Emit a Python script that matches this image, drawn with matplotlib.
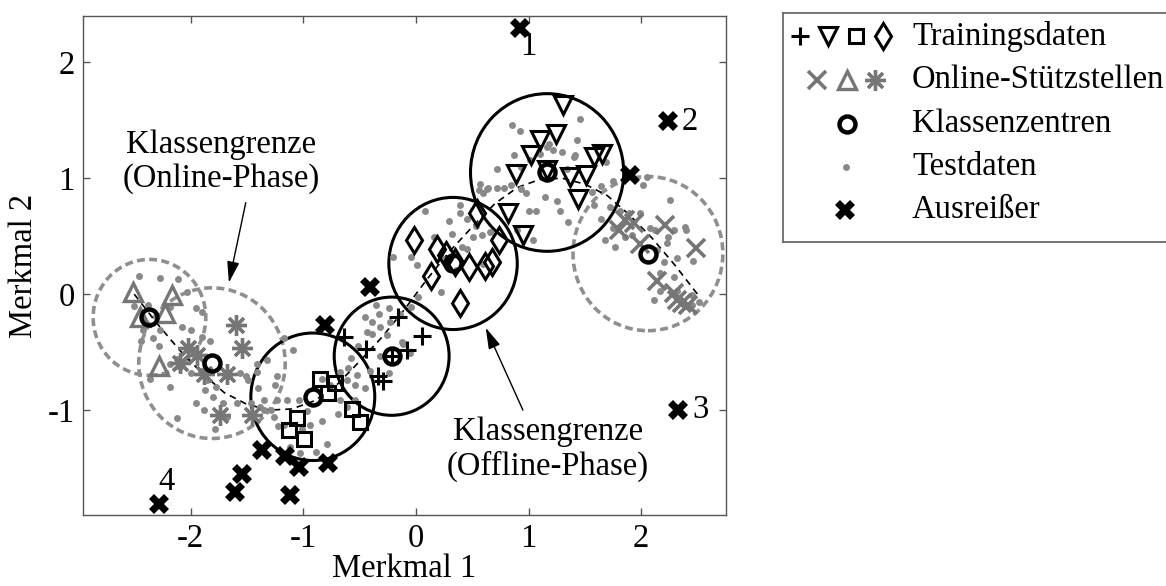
import matplotlib.pyplot as plt
from matplotlib.patches import Circle

plt.rcParams['font.family'] = ['Liberation Serif', 'DejaVu Serif']
plt.rcParams['font.size'] = 23.5
plt.rcParams['axes.unicode_minus'] = False

# Trainingsdaten (offline classes)
plus_x = [-0.64, -0.44, -0.16, 0.05, -0.08, -0.34, -0.29, -0.21]
plus_y = [-0.37, -0.47, -0.20, -0.36, -0.48, -0.71, -0.75, -0.53]
tri_x = [1.31, 1.24, 1.10, 1.02, 0.89, 1.165, 1.37, 1.51, 1.58, 1.65, 1.44, 0.82, 0.955]
tri_y = [1.63, 1.385, 1.33, 1.20, 1.04, 1.07, 1.01, 1.03, 1.18, 1.21, 0.825, 0.70, 0.51]
sq_x = [-0.855, -0.716, -0.784, -0.568, -0.50, -1.056, -1.13, -0.991]
sq_y = [-0.735, -0.765, -0.851, -0.991, -1.101, -1.072, -1.172, -1.253]
dia_x = [0.54, -0.02, 0.19, 0.27, 0.35, 0.47, 0.61, 0.68, 0.74, 0.13, 0.39]
dia_y = [0.70, 0.47, 0.39, 0.34, 0.28, 0.235, 0.24, 0.28, 0.47, 0.16, -0.08]

# Online-Stuetzstellen
ocross_x = [1.86, 1.94, 1.80, 2.21, 1.99, 2.49, 2.14, 2.29, 2.36, 2.42, 2.32]
ocross_y = [0.64, 0.61, 0.55, 0.595, 0.43, 0.40, 0.11, 0.01, -0.08, -0.095, -0.05]
otri_x = [-2.51, -2.165, -2.45, -2.225, -2.28]
otri_y = [0.02, -0.01, -0.20, -0.165, -0.62]
oast_x = [-1.60, -1.54, -2.02, -1.945, -2.09, -1.885, -1.68, -1.74, -1.455]
oast_y = [-0.27, -0.46, -0.46, -0.525, -0.59, -0.69, -0.685, -1.04, -1.04]

# Klassenzentren and class radii
off_cx = [-0.915, -0.215, 0.33, 1.165]
off_cy = [-0.885, -0.535, 0.265, 1.05]
off_r = [0.55, 0.51, 0.57, 0.68]
on_cx = [-2.365, -1.81, 2.06]
on_cy = [-0.20, -0.595, 0.35]
on_r = [0.50, 0.65, 0.665]

# Ausreisser
out_x = [0.925, 2.24, 2.33, -2.28, -1.37, -1.16, -1.04, -0.78, -1.54, -1.61, -1.12, -0.81, -0.41, 1.90]
out_y = [2.30, 1.49, -1.00, -1.81, -1.34, -1.40, -1.49, -1.46, -1.55, -1.71, -1.73, -0.27, 0.06, 1.03]
out_labels = ['1', '2', '3', '4']

# Testdaten
test_x = [-2.46, -2.27, -2.11, -2.38, -2.18, -2.03, -1.95, -1.90, -2.42, -2.33, -2.28, -2.08, -2.12, -2.36,
          -2.00, -1.90, -1.83, -2.18, -2.09, -2.00, -1.91, -1.85, -1.77, -1.66, -1.56, -1.49, -1.41, -1.32,
          -1.23, -1.87, -1.95, -1.80, -1.71, -1.59, -1.46, -1.35, -1.68, -1.78, -1.88, -2.12, -2.18, -2.27,
          -2.50, -2.44,
          -1.17, -1.09, -0.83, -0.76, -0.67, -0.61, -0.54, -0.69, -0.83, -0.94, -1.01, -1.17, -1.22, -1.26,
          -1.29, -1.35, -1.38, -1.23, -1.14, -0.97, -1.04, -0.79, -0.89, -1.03, -1.12, -1.40, -1.51, -1.41,
          -1.25,
          -0.35, -0.24, -0.45, -0.39, -0.32, -0.39, -0.26, -0.12, -0.05, -0.32, -0.51, -0.58, -0.60, -0.52,
          -0.54, -0.45, -0.24, -0.41, -0.67, -0.61,
          0.08, 0.29, 0.39, 0.39, 0.45, 0.53, 0.32, 0.51, 0.59, 0.66, 0.16, 0.41, 0.45, -0.04, 0.01, 0.23,
          0.29, 0.36, 0.60, 0.22, 0.02, -0.20, -0.14, -0.04, -0.23, -0.33, -0.43, -0.11,
          0.57, 0.64, 0.72, 0.60, 0.87, 0.93, 1.01, 1.10, 1.16, 1.22, 1.30, 1.41, 0.72, 0.98, 1.15, 1.25,
          1.28, 1.00, 1.07, 1.35, 1.04, 0.90, 0.84, 0.93, 0.85, 0.92, 1.46, 1.43, 1.18, 1.40, 1.34, 1.69,
          1.75, 1.64, 1.56, 0.56, 0.63, 0.78,
          2.05, 2.02, 2.26, 1.81, 1.89, 1.99, 1.72, 1.58, 1.64, 1.75, 1.68, 1.77, 1.86, 1.92, 2.08, 2.12,
          2.29, 2.39, 2.40, 2.24, 2.23, 2.14, 2.20, 2.32, 2.46, 2.17, 2.29, 2.32, 2.45, 2.51, 2.17, 2.11,
          2.45]
test_y = [0.16, 0.14, 0.13, -0.09, -0.11, 0.02, -0.12, -0.15, -0.31, -0.38, -0.45, -0.28, -0.56, -0.73,
          -0.31, -0.37, -0.40, -0.60, -0.63, -0.68, -0.66, -0.74, -0.80, -0.71, -0.68, -0.74, -0.60, -0.57,
          -0.71, -0.83, -0.94, -0.89, -0.94, -0.94, -0.94, -1.00, -1.06, -1.16, -1.00, -1.07, -0.80, -0.31,
          -0.10, -0.40,
          -0.38, -0.48, -0.73, -0.78, -0.91, -0.97, -0.91, -1.03, -1.09, -1.13, -1.16, -1.13, -1.14, -1.06,
          -1.00, -0.91, -0.97, -0.91, -0.91, -1.01, -0.91, -1.29, -1.36, -1.37, -1.32, -0.81, -0.71, -0.67,
          -0.78,
          -0.09, -0.12, -0.20, -0.24, -0.28, -0.34, -0.35, -0.41, -0.51, -0.53, -0.45, -0.55, -0.64, -0.70,
          -0.78, -0.81, -0.68, -0.66, -0.67, -0.74,
          0.72, 0.63, 0.77, 0.70, 0.65, 0.59, 0.52, 0.49, 0.51, 0.54, 0.49, 0.41, 0.39, 0.32, 0.25, 0.31,
          0.22, 0.21, 0.26, 0.02, -0.02, 0.32, -0.17, -0.11, -0.24, -0.17, -0.33, -0.43,
          0.95, 0.92, 0.92, 0.87, 1.20, 1.10, 1.16, 1.21, 1.27, 1.24, 1.23, 1.20, 1.08, 0.87, 0.84, 0.80,
          0.72, 0.72, 0.72, 0.62, 0.47, 0.55, 0.94, 0.91, 1.46, 1.41, 1.51, 1.33, 1.30, 1.18, 1.08, 1.14,
          0.98, 0.93, 0.88, 0.90, 0.91, 0.92,
          1.01, 0.94, 0.81, 0.72, 0.70, 0.70, 0.75, 0.77, 0.65, 0.57, 0.47, 0.41, 0.49, 0.51, 0.57, 0.55,
          0.55, 0.58, 0.55, 0.49, 0.44, 0.38, 0.28, 0.31, 0.29, 0.18, 0.15, 0.03, -0.01, -0.07, 0.03, -0.05,
          -0.09]

# Klassengrenze path through the class centres
curve_x = [-2.5, -2.3, -2.1, -1.9, -1.7, -1.5, -1.3, -1.1, -0.9, -0.7, -0.5, -0.3, -0.1,
           0.1, 0.3, 0.5, 0.7, 0.9, 1.1, 1.3, 1.5, 1.7, 1.9, 2.1, 2.3, 2.5]
curve_y = [0.0, -0.25, -0.48, -0.68, -0.85, -0.95, -1.0, -0.99, -0.92, -0.78, -0.58, -0.37, -0.13,
           0.13, 0.37, 0.58, 0.78, 0.92, 0.99, 1.0, 0.95, 0.85, 0.68, 0.48, 0.25, 0.0]

grey = '#767676'
dotgrey = '#898989'
W, H = 1166, 586

fig = plt.figure(figsize=(W / 100, H / 100), dpi=100)
ax = fig.add_axes([83 / W, 1 - 515 / H, (726 - 83) / W, (515 - 16) / H])

for cx, cy, r in zip(on_cx, on_cy, on_r):
    ax.add_patch(Circle((cx, cy), r, fill=False, ec='#8f8f8f', lw=2.6, ls=(0, (2.2, 1.2)), zorder=2))
for cx, cy, r in zip(off_cx, off_cy, off_r):
    ax.add_patch(Circle((cx, cy), r, fill=False, ec='black', lw=2.2, zorder=2))

ax.plot(curve_x, curve_y, color='black', lw=1.2, ls=(0, (4, 3)), zorder=3)
ax.plot(test_x, test_y, 'o', color=dotgrey, ms=5, mew=0, zorder=3)

ax.plot(plus_x, plus_y, '+', color='black', ms=13, mew=2.2, zorder=4)
ax.plot(tri_x, tri_y, 'v', mfc='none', mec='black', ms=12.5, mew=2.2, zorder=4)
ax.plot(sq_x, sq_y, 's', mfc='none', mec='black', ms=9.5, mew=2.2, zorder=4)
ax.plot(dia_x, dia_y, 'd', mfc='none', mec='black', ms=13.5, mew=2.2, zorder=4)

ax.plot(ocross_x, ocross_y, 'x', color=grey, ms=13, mew=2.6, zorder=4)
ax.plot(otri_x, otri_y, '^', mfc='none', mec=grey, ms=13, mew=2.4, zorder=4)
ax.plot(oast_x, oast_y, marker=(8, 2, 0), ls='none', color=grey, ms=15, mew=2.4, zorder=4)

ax.plot(off_cx + on_cx, off_cy + on_cy, 'o', mfc='none', mec='black', ms=11.5, mew=3.2, zorder=5)
ax.plot(out_x, out_y, 'X', color='black', ms=14.5, mew=0, zorder=5)

offsets = [(8, -19), (22, 0), (22, 0), (7, 22)]
for lab, x, y, off in zip(out_labels, out_x, out_y, offsets):
    ax.annotate(lab, (x, y), xytext=off, textcoords='offset pixels', ha='center', va='center')

arrow = dict(arrowstyle='-|>,head_length=0.55,head_width=0.16', color='black', lw=1.0,
             shrinkA=0, shrinkB=0)
ax.annotate('', xy=(-1.66, 0.10), xytext=(-1.51, 0.79), arrowprops=arrow)
ax.text(-1.73, 1.14, 'Klassengrenze\n(Online-Phase)', ha='center', va='center', linespacing=1.15)
ax.annotate('', xy=(0.62, -0.29), xytext=(0.95, -1.0), arrowprops=arrow)
ax.text(1.17, -1.34, 'Klassengrenze\n(Offline-Phase)', ha='center', va='center', linespacing=1.15)

ax.set_xlim(-2.955, 2.753)
ax.set_ylim(-1.905, 2.40)
ax.set_xticks([-2, -1, 0, 1, 2])
ax.set_yticks([-1, 0, 1, 2])
ax.tick_params(direction='in', length=5, width=1, color='#555555', top=True, right=True, pad=6)
for sp in ax.spines.values():
    sp.set_color('#555555')
    sp.set_linewidth(1.0)
ax.set_xlabel('Merkmal 1', labelpad=0)
ax.set_ylabel('Merkmal 2', labelpad=6)

# legend box, drawn by hand so it can run past the right edge
lax = fig.add_axes([783 / W, 1 - 242 / H, 420 / W, 229 / H])
lax.set_xlim(0, 420)
lax.set_ylim(229, 0)
lax.set_xticks([])
lax.set_yticks([])
for sp in lax.spines.values():
    sp.set_color('#6a6a6a')
    sp.set_linewidth(1.3)
rows = [23, 67, 111, 154, 197]
lax.plot([17], [rows[0]], '+', color='black', ms=13, mew=2.2)
lax.plot([45], [rows[0]], 'v', mfc='none', mec='black', ms=12.5, mew=2.2)
lax.plot([73], [rows[0]], 's', mfc='none', mec='black', ms=9.5, mew=2.2)
lax.plot([100], [rows[0]], 'd', mfc='none', mec='black', ms=13.5, mew=2.2)
lax.plot([34], [rows[1]], 'x', color=grey, ms=13, mew=2.6)
lax.plot([64], [rows[1]], '^', mfc='none', mec=grey, ms=13, mew=2.4)
lax.plot([92], [rows[1]], marker=(8, 2, 0), ls='none', color=grey, ms=15, mew=2.4)
lax.plot([64], [rows[2]], 'o', mfc='none', mec='black', ms=11.5, mew=3.2)
lax.plot([63], [rows[3]], 'o', color=dotgrey, ms=5, mew=0)
lax.plot([62], [rows[4]], 'X', color='black', ms=14.5, mew=0)
names = ['Trainingsdaten', 'Online-Stützstellen', 'Klassenzentren', 'Testdaten', 'Ausreißer']
for y, name in zip(rows, names):
    lax.text(129, y, name, ha='left', va='center')

fig.savefig('out.png', dpi=100)
